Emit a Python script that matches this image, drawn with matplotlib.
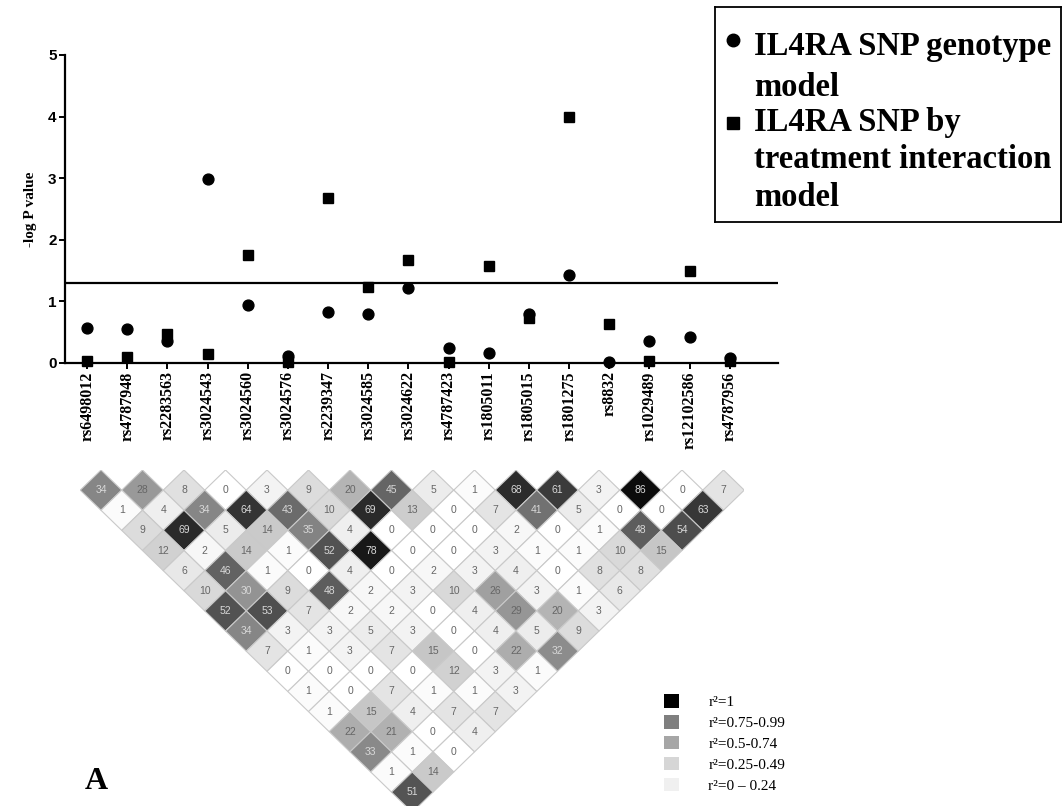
import matplotlib
matplotlib.use("Agg")
import matplotlib.pyplot as plt
from matplotlib.patches import Polygon, Patch

# ---------------- data ----------------
snps = ["rs6498012", "rs4787948", "rs2283563", "rs3024543", "rs3024560",
        "rs3024576", "rs2239347", "rs3024585", "rs3024622", "rs4787423",
        "rs1805011", "rs1805015", "rs1801275", "rs8832", "rs1029489",
        "rs12102586", "rs4787956"]
genotype_model = [0.57, 0.55, 0.35, 2.99, 0.94, 0.12, 0.83, 0.80, 1.22, 0.24,
                  0.16, 0.80, 1.43, 0.01, 0.35, 0.43, 0.08]
interaction_model = [0.04, 0.09, 0.47, 0.14, 1.75, 0.02, 2.68, 1.24, 1.68, 0.02,
                     1.57, 0.73, 3.99, 0.64, 0.04, 1.49, 0.04]
threshold = 1.3
yticks = [0, 1, 2, 3, 4, 5]

# LD r^2 (x100) by SNP distance d = 1..16, left to right
ld_rows = [
    [34, 28, 8, 0, 3, 9, 20, 45, 5, 1, 68, 61, 3, 86, 0, 7],
    [1, 4, 34, 64, 43, 10, 69, 13, 0, 7, 41, 5, 0, 0, 63],
    [9, 69, 5, 14, 35, 4, 0, 0, 0, 2, 0, 1, 48, 54],
    [12, 2, 14, 1, 52, 78, 0, 0, 3, 1, 1, 10, 15],
    [6, 46, 1, 0, 4, 0, 2, 3, 4, 0, 8, 8],
    [10, 30, 9, 48, 2, 3, 10, 26, 3, 1, 6],
    [52, 53, 7, 2, 2, 0, 4, 29, 20, 3],
    [34, 3, 3, 5, 3, 0, 4, 5, 9],
    [7, 1, 3, 7, 15, 0, 22, 32],
    [0, 0, 0, 0, 12, 3, 1],
    [1, 0, 7, 1, 1, 3],
    [1, 15, 4, 7, 7],
    [22, 21, 0, 4],
    [33, 1, 0],
    [1, 14],
    [51],
]

legend_labels = ["r²=1", "r²=0.75-0.99", "r²=0.5-0.74", "r²=0.25-0.49", "r²=0 – 0.24"]
legend_colors = ["#000000", "#7f7f7f", "#a6a6a6", "#d6d6d6", "#f0f0f0"]

# ---------------- figure ----------------
W, H = 1063, 806
fig = plt.figure(figsize=(W / 100, H / 100), dpi=100)
fig.patch.set_facecolor("white")

serif = ["Liberation Serif", "DejaVu Serif"]
narrow = ["Liberation Sans Narrow", "Liberation Sans", "DejaVu Sans"]


def px(l, t, r, b):
    return [l / W, 1 - b / H, (r - l) / W, (b - t) / H]


# ----- top scatter panel -----
ax = fig.add_axes(px(65, 55, 778, 363))
x = list(range(len(snps)))
ax.plot(x, genotype_model, "o", color="black", ms=7.8, clip_on=False, zorder=3)
ax.plot(x, interaction_model, "s", color="black", ms=7.5, clip_on=False, zorder=3)
ax.axhline(threshold, color="black", lw=1.6, zorder=2)
ax.set_xlim(-0.55, 17.2)
ax.set_ylim(0, 5)
ax.set_yticks(yticks)
ax.set_yticklabels([str(v) for v in yticks], family=narrow, fontweight="bold", fontsize=11)
ax.set_xticks(x)
ax.set_xticklabels(snps, rotation=90, family=serif, fontweight="bold", fontsize=11.5)
for s in ["top", "right"]:
    ax.spines[s].set_visible(False)
for s in ["left", "bottom"]:
    ax.spines[s].set_linewidth(1.6)
ax.tick_params(axis="both", direction="out", length=4, width=1.4, pad=2)
ax.set_ylabel("-log P value", family=serif, fontweight="bold", fontsize=11, labelpad=8)

# ----- legend box (top right) -----
lax = fig.add_axes(px(715, 7, 1061, 222))
lax.set_xlim(0, 346)
lax.set_ylim(215, 0)
lax.set_xticks([])
lax.set_yticks([])
for s in lax.spines.values():
    s.set_linewidth(1.3)
lfs = 23.5
lax.plot([18], [33], "o", color="black", ms=9)
lax.plot([18], [116], "s", color="black", ms=8)
lax.text(39, 40, "IL4RA SNP genotype", family=serif, fontweight="bold", fontsize=lfs, va="center")
lax.text(39, 80, "model", family=serif, fontweight="bold", fontsize=lfs, va="center")
lax.text(39, 116, "IL4RA SNP by", family=serif, fontweight="bold", fontsize=lfs, va="center")
lax.text(39, 152, "treatment interaction", family=serif, fontweight="bold", fontsize=lfs, va="center")
lax.text(39, 190, "model", family=serif, fontweight="bold", fontsize=lfs, va="center")

# ----- LD triangle -----
ld = fig.add_axes(px(80.25, 470, 744.25, 806))
ld.set_xlim(0, 16)
ld.set_ylim((806 - 470) / 40.27, 0)
ld.axis("off")


def shade(v):
    g = (1 - v / 100.0) ** 1.55
    return (g, g, g)


for d, row in enumerate(ld_rows, start=1):
    for i, v in enumerate(row):
        j = i + d
        cx, cy = (i + j) / 2.0, d / 2.0
        poly = Polygon([(cx - 0.5, cy), (cx, cy - 0.5), (cx + 0.5, cy), (cx, cy + 0.5)],
                       closed=True, facecolor=shade(v), edgecolor="#c9c9c9", lw=0.8)
        ld.add_patch(poly)
        ld.text(cx, cy, str(v), ha="center", va="center", fontsize=7.5,
                family=["Liberation Sans", "DejaVu Sans"],
                color="#d8d8d8" if v >= 30 else "#666666")

# ----- r^2 legend -----
handles = [Patch(facecolor=c, edgecolor="none") for c in legend_colors]
fig.legend(handles, legend_labels, loc="upper left", bbox_to_anchor=(664 / W, 1 - 694 / H),
           frameon=False, prop={"family": serif, "size": 11}, handlelength=1.0,
           handleheight=1.0, labelspacing=0.38, handletextpad=1.9, borderpad=0,
           borderaxespad=0)

# ----- panel letter -----
fig.text(85 / W, 1 - 789 / H, "A", family=serif, fontweight="bold", fontsize=23, ha="left", va="baseline")

fig.savefig("out.png", dpi=100, facecolor="white")
